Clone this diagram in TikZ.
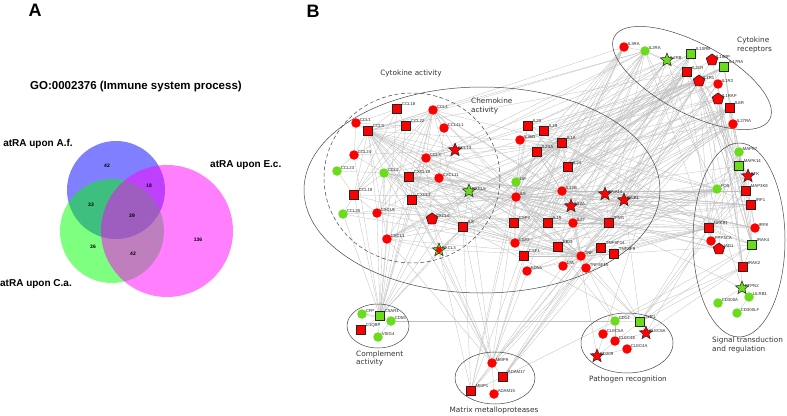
\documentclass[tikz,border=0pt]{standalone}
\usepackage{fontspec}
\setmainfont{Liberation Sans}
\newfontfamily\dvsans{DejaVu Sans}
\usetikzlibrary{shapes.geometric,backgrounds}
\definecolor{nred}{RGB}{255,0,0}
\definecolor{ngreen}{RGB}{106,220,28}
\definecolor{edgec}{RGB}{190,190,190}
\definecolor{grpc}{RGB}{70,70,70}
\definecolor{vblue}{RGB}{0,0,255}
\definecolor{vgreen}{RGB}{0,255,0}
\definecolor{vmag}{RGB}{255,0,255}
\newcommand\mynode[3]{\node[#1,label={[lbl,anchor=west]45:#2}] (#2) at (#3) {};}
\begin{document}
\begin{tikzpicture}[x=1pt,y=-1pt,
  lbl/.style={font=\fontsize{4.3}{5}\selectfont, text=black!85, inner sep=0.2pt},
  base/.style={inner sep=0pt, outer sep=0pt},
  rc/.style={base,circle,fill=nred,minimum size=9.5pt},
  gc/.style={base,circle,fill=ngreen,minimum size=9.5pt},
  rs/.style={base,rectangle,fill=nred,draw=black!85,line width=0.7pt,minimum size=9pt},
  gs/.style={base,rectangle,fill=ngreen,draw=black!85,line width=0.7pt,minimum size=9pt},
  rst/.style={base,star,star points=5,star point ratio=2.3,fill=nred,draw=black!85,line width=0.5pt,minimum size=14pt},
  gst/.style={base,star,star points=5,star point ratio=2.3,fill=ngreen,draw=black!85,line width=0.5pt,minimum size=14pt},
  rp/.style={base,regular polygon,regular polygon sides=5,fill=nred,draw=black!85,line width=0.7pt,minimum size=12pt},
  edge/.style={draw=edgec,line width=0.3pt},
  grp/.style={draw=grpc,line width=0.5pt},
  glab/.style={font=\dvsans\fontsize{7.3}{8.6}\selectfont,text=black!80,align=left,inner sep=0pt},
  vlab/.style={font=\bfseries\fontsize{10}{12}\selectfont,inner sep=0pt},
  vnum/.style={font=\bfseries\fontsize{5}{6}\selectfont,inner sep=0pt},
  panel/.style={font=\bfseries\fontsize{18}{20}\selectfont,inner sep=0pt}
]
\useasboundingbox (0,0) rectangle (787,415);

% ---------------- Panel A ----------------
\node[panel] (pA) at (35,10) {A};
\node[font=\bfseries\fontsize{11.5}{13}\selectfont] (title) at (136,87) {GO:0002376 (Immune system process)};
\fill[vblue,opacity=0.5] (116,190) circle (49pt);
\fill[vgreen,opacity=0.5] (112,231) circle (52pt);
\fill[vmag,opacity=0.5] (167,231) circle (66pt);
\node[vlab] (lAf) at (38,144) {atRA upon A.f.};
\node[vlab,anchor=west] (lEc) at (210,165) {atRA upon E.c.};
\node[vlab] (lCa) at (36,284) {atRA upon C.a.};
\node[vnum] (n42a) at (107,166) {42};
\node[vnum] (n18) at (149,186) {18};
\node[vnum] (n33) at (91,205) {33};
\node[vnum] (n39) at (132,216) {39};
\node[vnum] (n36) at (93,247) {36};
\node[vnum] (n42b) at (133,254) {42};
\node[vnum] (n136) at (198,240) {136};

% ---------------- Panel B ----------------
\node[panel] (pB) at (313,11) {B};

% group outlines
\draw[grp] (482,190) ellipse [x radius=178pt, y radius=103pt];
\draw[grp,dashed,dash pattern=on 4pt off 2.5pt] (412,178) ellipse [x radius=88pt, y radius=85pt];
\draw[grp,rotate around={-28:(692,78)}] (692,78) ellipse [x radius=88pt, y radius=35pt];
\draw[grp] (739,240) ellipse [x radius=46pt, y radius=97pt];
\draw[grp] (378,326) ellipse [x radius=31pt, y radius=22pt];
\draw[grp] (495,378) ellipse [x radius=40pt, y radius=26pt];
\draw[grp] (627,343) ellipse [x radius=46pt, y radius=30pt];

% group labels
\node[glab] (tCyt) at (411,73) {Cytokine activity};
\node[glab,anchor=west] (tChem) at (471,106) {Chemokine\\activity};
\node[glab,anchor=west] (tRec) at (737,45) {Cytokine\\receptors};
\node[glab,anchor=west] (tComp) at (356,358.5) {Complement\\activity};
\node[glab] (tMMP) at (494,410) {Matrix metalloproteases};
\node[glab] (tPat) at (628,379) {Pathogen recognition};
\node[glab,anchor=west] (tSig) at (712,345) {Signal transduction\\and regulation};

% chemokines
\mynode{rs}{CCL18}{397,109}
\mynode{rc}{CCL4}{433,110}
\mynode{rc}{CCL1}{356,123}
\mynode{rs}{CCL5}{368,131}
\mynode{rs}{CCL22}{406,126}
\mynode{rc}{CCL4L1}{444,128}
\mynode{rst}{CCL13}{455,150}
\mynode{rc}{CCL24}{354,155}
\mynode{rc}{CCL3}{426,158}
\mynode{gc}{CCL23}{337,171}
\mynode{gc}{CCL2}{384,173}
\mynode{rs}{CXCL10}{409,177}
\mynode{rc}{CXCL11}{439,178}
\mynode{gst}{CXCL5}{469,191}
\mynode{rs}{CCL19}{354,195}
\mynode{rs}{CXCL2}{412,200}
\mynode{gc}{CCL20}{343,214}
\mynode{rc}{CXCL9}{377,213}
\mynode{rp}{CXCL6}{432,219}
\mynode{rs}{IL8}{463,227}
\mynode{rc}{CXCL1}{387,239}
\mynode{gst}{CXCL3}{439,250}
\node[rc,minimum size=6pt] (CXCL3dot) at (CXCL3.center) {};

% cytokines
\mynode{rs}{IL20}{528,126}
\mynode{rs}{IL19}{544,131}
\mynode{rc}{IL36G}{520,140}
\mynode{rs}{IL1A}{562,143}
\mynode{rs}{IL23A}{537,152}
\mynode{rs}{IL24}{568,167}
\mynode{gc}{LIF}{516,182}
\mynode{rc}{IL6}{516,197}
\mynode{rc}{IL12B}{562,191}
\mynode{rst}{IL12A}{571,206}
\mynode{rst}{IFNA14}{605,194}
\mynode{rst}{IFNB1}{624,200}
\mynode{rs}{CSF3}{514,223}
\mynode{rs}{IL15}{548,223}
\mynode{rc}{IL27}{573,223}
\mynode{rs}{IFNG}{609,223}
\mynode{rc}{CSF2}{515,243}
\mynode{rs}{EBI3}{558,247}
\mynode{rs}{TNFSF14}{601,248}
\mynode{rs}{TNFSF9}{614,254}
\mynode{rc}{TNF}{581,256}
\mynode{rs}{CSF1}{524,256}
\mynode{rc}{LTA}{563,266}
\mynode{rc}{TNFSF15}{586,268}
\mynode{rc}{EDN1}{527,271}

% receptors
\mynode{rc}{IL3RA}{624,47}
\mynode{gc}{IL2RA}{645,51}
\mynode{gst}{IL2RB}{667,60}
\mynode{gs}{IL10RB}{691,54}
\mynode{rp}{IL18BP}{712,60}
\mynode{gs}{IL17RA}{724,67}
\mynode{rs}{IL21R}{687,72}
\mynode{rp}{IL1R1}{699,81}
\mynode{rc}{IL1R2}{718,84}
\mynode{rp}{IL1RAP}{718,99}
\mynode{rs}{IL6R}{730,108}
\mynode{rc}{IL27RA}{733,124}

% signal transduction
\mynode{gc}{MAPK7}{739,152}
\mynode{gs}{MAPK14}{739,166}
\mynode{rst}{BTK}{748,176}
\mynode{gc}{FOS}{717,189}
\mynode{rs}{MAP3K8}{746,191}
\mynode{rs}{IRF1}{751,205}
\mynode{rc}{IRF8}{755,228}
\mynode{rs}{NFKB1}{709,228}
\mynode{rc}{PPP3CA}{711,241}
\mynode{gs}{IRAK4}{752,245}
\mynode{rp}{JAG1}{719,249}
\mynode{rs}{IRAK2}{743,267}
\mynode{gst}{PTPN2}{742,288}
\mynode{gc}{LILRB1}{749,297}
\mynode{gc}{CD300A}{718,303}
\mynode{gc}{CD300LF}{737,313}

% complement
\mynode{gc}{CFP}{362,314}
\mynode{gs}{C5AR1}{380,316}
\mynode{gc}{CD55}{391,321}
\mynode{rs}{C1QBP}{361,330}
\mynode{gc}{VSIG4}{378,337}

% matrix metalloproteases
\mynode{rc}{MMP9}{492,363}
\mynode{rs}{ADAM17}{503,377}
\mynode{rs}{MMP1}{471,391}
\mynode{rc}{ADAM15}{494,394}

% pathogen recognition
\mynode{gc}{CD14}{615,321}
\mynode{gs}{TLR1}{640,322}
\mynode{rc}{CLEC5A}{603,334}
\mynode{rc}{CLEC4E}{615,341}
\mynode{rst}{CLEC6A}{646,333}
\mynode{rc}{CLEC4A}{627,349}
\mynode{rst}{CD209}{597,356}

% connectors
\begin{scope}[on background layer]
\foreach \s/\tl in {
 CCL5/{CCL1,CCL18,CCL22,CCL4,CCL3,CCL24,CCL2,CXCL10,CXCL11,CXCL2,CCL19,CXCL9,CXCL6,IL8,CXCL1,CXCL3,CXCL5,CCL13,IL6,IFNG,TNF,IL1A,CSF2,IL15,IL12B,IL2RA,IL21R},
 CCL4/{CCL3,CCL22,CCL4L1,CXCL10,CXCL2,CCL2,IL8,CCL19,CXCL9,IFNG,TNF,IL1A,IL6,C5AR1,CCL13,IL12B},
 CCL3/{CCL2,CCL4L1,CXCL10,CXCL2,IL8,CXCL6,CCL13,IL6,TNF,IL1A,CSF2,IFNG,C5AR1,IL2RB,IL1R1},
 CCL2/{CXCL10,CXCL2,IL8,CCL19,CXCL9,CXCL1,IL6,TNF,IL1A,IFNG,CSF2,C5AR1,IL12B,IL27,MMP9},
 CXCL10/{CXCL11,CXCL9,CXCL2,IL8,IFNG,TNF,IL12B,IL12A,IL27,IFNB1,IL6,C5AR1,IL2RA,IL1R1},
 CXCL2/{IL8,CXCL1,CXCL3,CXCL5,CXCL6,IL6,TNF,IL1A,CSF3,C5AR1,MMP9,IL17RA},
 IL8/{CXCL1,CXCL3,CXCL5,CXCL6,IL6,TNF,IL1A,CSF2,CSF3,IFNG,IL12B,C5AR1,MMP9,MMP1,IL1R1,IL1RAP,IL17RA,NFKB1,FOS,TLR1},
 CXCL1/{CXCL3,CXCL5,CXCL6,IL6,TNF,IL1A,C5AR1,MMP9,IL17RA},
 CXCL9/{CXCL11,IFNG,TNF,IL12B,C5AR1,IL27},
 CCL19/{CCL22,CCL18,CXCL9,C5AR1,IL6,TNF},
 CCL13/{CCL22,CCL24,CCL3,IL6,IL1A,IL20},
 IL6/{IL1A,TNF,IL12B,CSF2,CSF3,IFNG,LIF,IL23A,IL15,IL27,IL12A,IL6R,IL1R1,IL1RAP,IL27RA,IL3RA,IL2RA,IL21R,NFKB1,FOS,MAP3K8,IRF1,TLR1,CD14,MMP9,MMP1,EBI3,IL24,IL19,IL20,IL36G,IFNB1,JAG1},
 TNF/{IL1A,IFNG,IL12A,IL12B,CSF2,LTA,TNFSF14,EDN1,CSF1,IL15,TNFSF15,TNFSF9,NFKB1,FOS,MAPK14,IL1R1,IL1R2,IL6R,MMP9,MMP1,ADAM17,CD14,TLR1,IRAK4,BTK,IFNB1},
 IFNG/{IL12A,IL12B,IL27,EBI3,IL15,IL2RA,IL2RB,IL21R,IL10RB,IRF1,IRF8,IL23A,IL24,IL18BP,CSF2,LTA,PPP3CA,JAG1,IFNB1,IFNA14},
 IL1A/{IL1R1,IL1R2,IL1RAP,IL36G,IL19,IL20,IL24,IL23A,CSF2,MMP1,MMP9,IL18BP,NFKB1,IRAK4,IRAK2},
 IL12A/{IL12B,IL27,EBI3,IL23A,IFNB1,IFNA14,IRF1,IRF8,IL2RB,IL21R,IL27RA,IL6R},
 IL12B/{IL23A,IL27,IL2RA,IL2RB,IL10RB,IL21R,NFKB1,IRF8,IL15,CSF2},
 IL15/{IL2RA,IL2RB,IL21R,IL3RA,CSF2,IFNA14,IFNB1,IL27,IRF1,NFKB1},
 CSF2/{IL3RA,IL2RA,CSF3,CSF1,IL2RB,IL21R,NFKB1,FOS,IL6R},
 IFNB1/{IFNA14,IRF1,IRF8,IRAK4,IL10RB,IL27RA,TLR1,BTK,IL27,IL1R1},
 IFNA14/{IRF1,IRF8,IL10RB,IL27RA,IL6R},
 IL23A/{IL21R,IL27RA,IL6R,IL17RA,IL2RB},
 IL27/{EBI3,IL27RA,IL6R,IL10RB,IL21R,IL2RA},
 IL20/{IL10RB,IL19,IL24,IL1R1,IL2RB},
 IL19/{IL10RB,IL24,IL21R},
 IL24/{IL10RB,IL21R,IL1R1,IL6R},
 IL36G/{IL1RAP,IL1R1,IL1R2},
 LIF/{IL6R,IL3RA,IL2RA},
 CSF3/{IL3RA,IL6R,IL17RA},
 IL3RA/{IL2RA,CCL5,IL8,CSF1,IL24},
 IL2RA/{IL2RB,IL21R,CCL3,CCL4},
 IL1R1/{IL1R2,IL1RAP,IRAK4,IRAK2,MAP3K8},
 IL1RAP/{IRAK4,IRAK2,MAPK14},
 C5AR1/{CFP,CD55,VSIG4,C1QBP,CCL22,CCL13,CXCL5,CXCL6,CXCL3,CCL18,CCL24,CCL20},
 CD55/{CD14,CFP,VSIG4},
 MMP9/{MMP1,ADAM17,ADAM15,CXCL5,CXCL6,IL1R1,TNFSF14,CSF1,IL24},
 MMP1/{ADAM17,IL6R,CXCL6,IL20},
 ADAM17/{TNFSF15,IL6R,IL1R2,CD14,IL17RA},
 TLR1/{CD14,IRAK4,IRAK2,MAPK14,NFKB1,CLEC6A,IL12B,CD209,MAP3K8},
 CD14/{IRAK2,IRAK4,CLEC4E},
 CLEC6A/{IRAK2,NFKB1,CLEC4E},
 CD209/{CLEC4A,IL12A,IL10RB},
 NFKB1/{IL1R1,FOS,IRF1,IRAK4,MAPK14,BTK,PPP3CA,JAG1,IL1RAP,MAP3K8,TNFSF14,CSF1,EDN1,LTA,TNFSF9},
 FOS/{IL2RA,IL1R1,MAPK14,MAPK7,IRF1,IL15,CSF2,IL12A,IFNB1,IL19,IL36G,IL23A,EDN1,CSF1},
 MAP3K8/{MAPK14,IRAK4,IL1R1,IL12B,IL17RA},
 IRF1/{IRF8,IL21R,IL6R,CXCL10,IL12B},
 IRF8/{IL12B,IL27RA},
 MAPK14/{MAPK7,BTK,IRAK4,IL1R1,IL6R,IL17RA,IL6},
 BTK/{IRAK4,IL10RB,IL21R},
 IRAK4/{IRAK2,IL1R1,IL1RAP,IL18BP},
 IRAK2/{IL1RAP},
 PTPN2/{IL2RB,IL6R,IFNG,LILRB1},
 PPP3CA/{IL2RA,IFNG,IL21R},
 JAG1/{IL6R},
 CXCL11/{IFNG,IL12B,CCL4L1},
 CCL22/{CCL18,CCL24,CCL1},
 CCL1/{CCL24,CCL18},
 CCL24/{CCL23,CCL2},
 CCL23/{CCL2,CCL19},
 CCL20/{CXCL9,CCL19,IL6,TNF},
 CXCL6/{IL6,IL1A,TNF,CXCL5,IL17RA},
 CXCL5/{IL6,IL1A,TNF,IL17RA,IL1R1},
 CXCL3/{IL6,TNF,IL1A,MMP9},
 EBI3/{IL27RA,IL10RB},
 LTA/{TNFSF14,TNFSF15,IL2RA},
 TNFSF14/{TNFSF9},
 IL1R2/{IRAK2},
 IL17RA/{IL6R},
 CD300A/{PTPN2},
 LILRB1/{CD300LF}}
 {\foreach \t in \tl {\draw[edge] (\s) -- (\t);}}
\end{scope}
\end{tikzpicture}
\end{document}
